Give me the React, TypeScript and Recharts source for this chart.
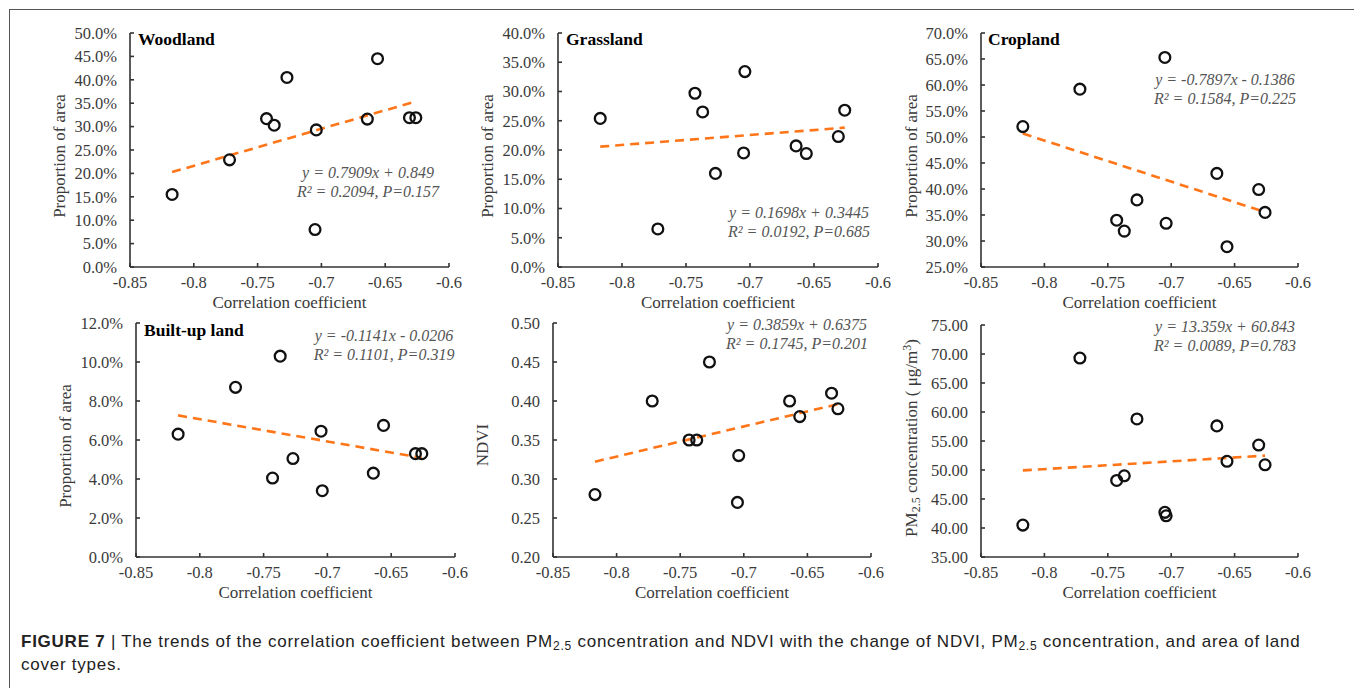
import React from "react";
import {
  ScatterChart,
  Scatter,
  XAxis,
  YAxis,
  ReferenceLine,
} from "recharts";

// correlation coefficient of each unit (shared x for all panels)
const corr = [-0.817, -0.772, -0.743, -0.737, -0.727, -0.705, -0.704, -0.664, -0.656, -0.631, -0.626];

const woodland = [15.5, 22.9, 31.7, 30.3, 40.5, 8.0, 29.3, 31.6, 44.5, 31.9, 31.9];
const grassland = [25.4, 6.5, 29.7, 26.5, 16.0, 19.5, 33.4, 20.7, 19.4, 22.3, 26.8];
const cropland = [52.0, 59.2, 34.0, 31.9, 37.9, 65.3, 33.4, 43.0, 28.9, 39.9, 35.5];
const builtup = [6.3, 8.7, 4.05, 10.3, 5.05, 6.45, 3.4, 4.3, 6.75, 5.3, 5.3];
const ndvi = [0.28, 0.4, 0.35, 0.35, 0.45, 0.27, 0.33, 0.4, 0.38, 0.41, 0.39];
const pm25 = [40.5, 69.3, 48.2, 49.0, 58.8, 42.7, 42.1, 57.6, 51.5, 54.3, 50.9];

const xTicks = [-0.85, -0.8, -0.75, -0.7, -0.65, -0.6];
const woodTicks = [0, 5, 10, 15, 20, 25, 30, 35, 40, 45, 50];
const grassTicks = [0, 5, 10, 15, 20, 25, 30, 35, 40];
const cropTicks = [25, 30, 35, 40, 45, 50, 55, 60, 65, 70];
const builtTicks = [0, 2, 4, 6, 8, 10, 12];
const ndviTicks = [0.2, 0.25, 0.3, 0.35, 0.4, 0.45, 0.5];
const pmTicks = [35, 40, 45, 50, 55, 60, 65, 70, 75];

// fitted trend lines: [slope, intercept, scale]
const woodFit = [0.7909, 0.849, 100];
const grassFit = [0.1698, 0.3445, 100];
const cropFit = [-0.7897, -0.1386, 100];
const builtFit = [-0.1141, -0.0206, 100];
const ndviFit = [0.3859, 0.6375, 1];
const pmFit = [13.359, 60.843, 1];

const serif = "'Liberation Serif', 'Times New Roman', serif";
const textGray = "#3a3a3a";
const pct = (v: number) => v.toFixed(1) + "%";
const two = (v: number) => v.toFixed(2);
const subStyle = { fontSize: 12, verticalAlign: "-3px", lineHeight: 0 };

const Ring = (props: any) => (
  <circle cx={props.cx} cy={props.cy} r={5.4} fill="none" stroke="#111" strokeWidth={2.3} />
);

interface PanelProps {
  box: [number, number, number, number]; // left, top, width, height of plot area
  values: number[];
  yTicks: number[];
  fmt: (v: number) => string;
  fit: number[];
  title?: string;
  titlePos?: [number, number];
  eq: [string, string];
  eqPos: [number, number];
  yLabel: React.ReactNode;
  yLabelPos: [number, number];
}

const Panel = ({ box, values, yTicks, fmt, fit, title, titlePos, eq, eqPos, yLabel, yLabelPos }: PanelProps) => {
  const [L, T, W, H] = box;
  const data = corr.map((x, i) => ({ x, y: values[i] }));
  const x0 = Math.min(...corr);
  const x1 = Math.max(...corr);
  const [k, b, s] = fit;
  const seg = [
    { x: x0, y: (k * x0 + b) * s },
    { x: x1, y: (k * x1 + b) * s },
  ];
  const yAxisW = 72;
  return (
    <>
      <div style={{ position: "absolute", left: L - yAxisW, top: T - 10 }}>
        <ScatterChart
          width={W + yAxisW + 14}
          height={H + 10 + 30}
          margin={{ top: 10, right: 14, bottom: 0, left: 0 }}
        >
          <XAxis
            type="number"
            dataKey="x"
            domain={[-0.85, -0.6]}
            ticks={xTicks}
            interval={0}
            allowDataOverflow
            height={30}
            tickSize={-4}
            tickMargin={13}
            tickFormatter={(v: number) => String(v)}
            stroke="#333"
            strokeWidth={1.6}
            tick={{ fill: textGray, fontSize: 16.5, fontFamily: serif }}
          />
          <YAxis
            type="number"
            dataKey="y"
            domain={[yTicks[0], yTicks[yTicks.length - 1]]}
            ticks={yTicks}
            interval={0}
            allowDataOverflow
            width={yAxisW}
            tickSize={-4}
            tickMargin={17}
            tickFormatter={fmt}
            stroke="#333"
            strokeWidth={1.6}
            tick={{ fill: textGray, fontSize: 16.5, fontFamily: serif }}
          />
          <ReferenceLine
            segment={seg}
            stroke="#ff7518"
            strokeWidth={2.6}
            strokeDasharray="9 6"
            ifOverflow="visible"
          />
          <Scatter data={data} shape={Ring} isAnimationActive={false} />
        </ScatterChart>
      </div>
      {title && titlePos && (
        <div
          style={{
            position: "absolute",
            left: titlePos[0],
            top: titlePos[1] - 11,
            fontFamily: serif,
            fontWeight: "bold",
            fontSize: 17.5,
            lineHeight: "22px",
            color: "#000",
            whiteSpace: "nowrap",
          }}
        >
          {title}
        </div>
      )}
      <div
        style={{
          position: "absolute",
          left: eqPos[0] - 110,
          top: eqPos[1] - 10,
          width: 220,
          textAlign: "center",
          fontFamily: serif,
          fontStyle: "italic",
          fontSize: 16,
          lineHeight: "18.5px",
          color: "#555",
          whiteSpace: "nowrap",
        }}
      >
        <div>{eq[0]}</div>
        <div>{eq[1]}</div>
      </div>
      <div
        style={{
          position: "absolute",
          left: yLabelPos[0] - 150,
          top: yLabelPos[1] - 11,
          width: 300,
          height: 22,
          lineHeight: "22px",
          textAlign: "center",
          transform: "rotate(-90deg)",
          fontFamily: serif,
          fontSize: 17,
          color: textGray,
          whiteSpace: "nowrap",
        }}
      >
        {yLabel}
      </div>
      <div
        style={{
          position: "absolute",
          left: L + W / 2 - 150,
          top: T + H + 25,
          width: 300,
          textAlign: "center",
          fontFamily: serif,
          fontSize: 17,
          lineHeight: "22px",
          color: textGray,
          whiteSpace: "nowrap",
        }}
      >
        Correlation coefficient
      </div>
    </>
  );
};

const captionStyle: React.CSSProperties = {
  position: "absolute",
  left: 21,
  fontFamily: "'Liberation Sans', Arial, sans-serif",
  fontSize: 17,
  letterSpacing: "0.75px",
  lineHeight: "23px",
  color: "#222",
  whiteSpace: "nowrap",
};

export default function App() {
  return (
    <div
      style={{
        position: "absolute",
        left: 0,
        top: 0,
        width: 1354,
        height: 688,
        background: "#fff",
        overflow: "hidden",
      }}
    >
      <div style={{ position: "absolute", left: 9, top: 9, width: 1345, height: 0, borderTop: "1.5px solid #555" }} />
      <div style={{ position: "absolute", left: 9, top: 9, width: 0, height: 679, borderLeft: "1.5px solid #555" }} />

      <Panel
        box={[130, 33, 319, 234]}
        values={woodland}
        yTicks={woodTicks}
        fmt={pct}
        fit={woodFit}
        title="Woodland"
        titlePos={[138, 39]}
        eq={["y = 0.7909x + 0.849", "R² = 0.2094, P=0.157"]}
        eqPos={[368, 174]}
        yLabel="Proportion of area"
        yLabelPos={[60, 156]}
      />
      <Panel
        box={[558, 33, 320, 234]}
        values={grassland}
        yTicks={grassTicks}
        fmt={pct}
        fit={grassFit}
        title="Grassland"
        titlePos={[566, 39]}
        eq={["y = 0.1698x + 0.3445", "R² = 0.0192, P=0.685"]}
        eqPos={[799, 214]}
        yLabel="Proportion of area"
        yLabelPos={[488, 156]}
      />
      <Panel
        box={[981, 33, 317, 234]}
        values={cropland}
        yTicks={cropTicks}
        fmt={pct}
        fit={cropFit}
        title="Cropland"
        titlePos={[988, 39]}
        eq={["y = -0.7897x - 0.1386", "R² = 0.1584, P=0.225"]}
        eqPos={[1225, 81]}
        yLabel="Proportion of area"
        yLabelPos={[912, 156]}
      />
      <Panel
        box={[136, 323, 319, 234]}
        values={builtup}
        yTicks={builtTicks}
        fmt={pct}
        fit={builtFit}
        title="Built-up land"
        titlePos={[144, 330]}
        eq={["y = -0.1141x - 0.0206", "R² = 0.1101, P=0.319"]}
        eqPos={[384, 337]}
        yLabel="Proportion of area"
        yLabelPos={[66, 446]}
      />
      <Panel
        box={[553, 323, 318, 234]}
        values={ndvi}
        yTicks={ndviTicks}
        fmt={two}
        fit={ndviFit}
        eq={["y = 0.3859x + 0.6375", "R² = 0.1745, P=0.201"]}
        eqPos={[797, 326]}
        yLabel="NDVI"
        yLabelPos={[483, 445]}
      />
      <Panel
        box={[981, 325, 317, 232]}
        values={pm25}
        yTicks={pmTicks}
        fmt={two}
        fit={pmFit}
        eq={["y = 13.359x + 60.843", "R² = 0.0089, P=0.783"]}
        eqPos={[1225, 328]}
        yLabel={
          <span>
            PM<sub style={subStyle}>2.5</sub> concentration ( μg/m
            <sup style={{ fontSize: 12, verticalAlign: "6px", lineHeight: 0 }}>3</sup>)
          </span>
        }
        yLabelPos={[912, 438]}
      />

      <div style={{ ...captionStyle, top: 630 }}>
        <b>FIGURE 7</b> | The trends of the correlation coefficient between PM<sub style={subStyle}>2.5</sub>{" "}
        concentration and NDVI with the change of NDVI, PM<sub style={subStyle}>2.5</sub> concentration, and area of
        land
      </div>
      <div style={{ ...captionStyle, top: 653 }}>cover types.</div>
    </div>
  );
}
